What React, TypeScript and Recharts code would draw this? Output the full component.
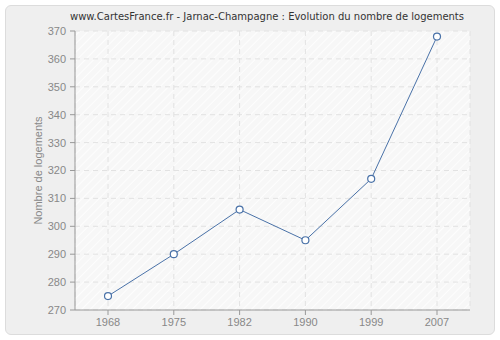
import { LineChart, Line, XAxis, YAxis, CartesianGrid } from "recharts";

const years = ["1968", "1975", "1982", "1990", "1999", "2007"];
const logements = [275, 290, 306, 295, 317, 368];
const yTicks = [270, 280, 290, 300, 310, 320, 330, 340, 350, 360, 370];

const data = years.map((y, i) => ({ year: y, value: logements[i] }));

const TITLE_FONT = "'DejaVu Sans', sans-serif";
const FONT = "'Liberation Sans', Arial, sans-serif";

export default function App() {
  return (
    <div style={{ position: "absolute", left: 0, top: 0, width: 500, height: 340, background: "#fff", fontFamily: FONT }}>
      <div
        style={{
          position: "absolute",
          left: 5,
          top: 5,
          width: 488,
          height: 328,
          background: "#efefef",
          border: "1px solid #dcdcdc",
          borderRadius: 6,
        }}
      />
      <div
        style={{
          position: "absolute",
          left: 0,
          top: 11,
          width: 534,
          textAlign: "center",
          fontSize: 10,
          fontFamily: TITLE_FONT,
          color: "#333",
        }}
      >
        www.CartesFrance.fr - Jarnac-Champagne : Evolution du nombre de logements
      </div>
      <div style={{ position: "absolute", left: 0, top: 0 }}>
        <LineChart
          width={500}
          height={340}
          data={data}
          margin={{ top: 31, right: 30, bottom: 0, left: 20 }}
        >
          <defs>
            <pattern id="hatch" width="6" height="6" patternUnits="userSpaceOnUse" patternTransform="rotate(45)">
              <rect width="6" height="6" fill="#f7f7f7" />
              <line x1="0" y1="0" x2="0" y2="6" stroke="#fdfdfd" strokeWidth="2" />
            </pattern>
          </defs>
          <CartesianGrid fill="url(#hatch)" stroke="#e2e2e2" strokeDasharray="5 4" />
          <XAxis
            dataKey="year"
            padding={{ left: 33, right: 33 }}
            height={30}
            stroke="#999"
            tickSize={5}
            tickMargin={3}
            tick={{ fill: "#888", fontSize: 11, fontFamily: FONT }}
          />
          <YAxis
            domain={[270, 370]}
            ticks={yTicks}
            width={55}
            stroke="#999"
            tickSize={5}
            tickMargin={4}
            tick={{ fill: "#888", fontSize: 11, fontFamily: FONT }}
            label={{
              value: "Nombre de logements",
              angle: -90,
              position: "insideLeft",
              offset: 18,
              style: { fill: "#888", fontSize: 11, fontFamily: FONT, textAnchor: "middle" },
            }}
          />
          <Line
            dataKey="value"
            stroke="#4a72a8"
            strokeWidth={1}
            dot={{ r: 3.5, fill: "#fff", stroke: "#4a72a8", strokeWidth: 1.2 }}
            isAnimationActive={false}
          />
        </LineChart>
      </div>
    </div>
  );
}
